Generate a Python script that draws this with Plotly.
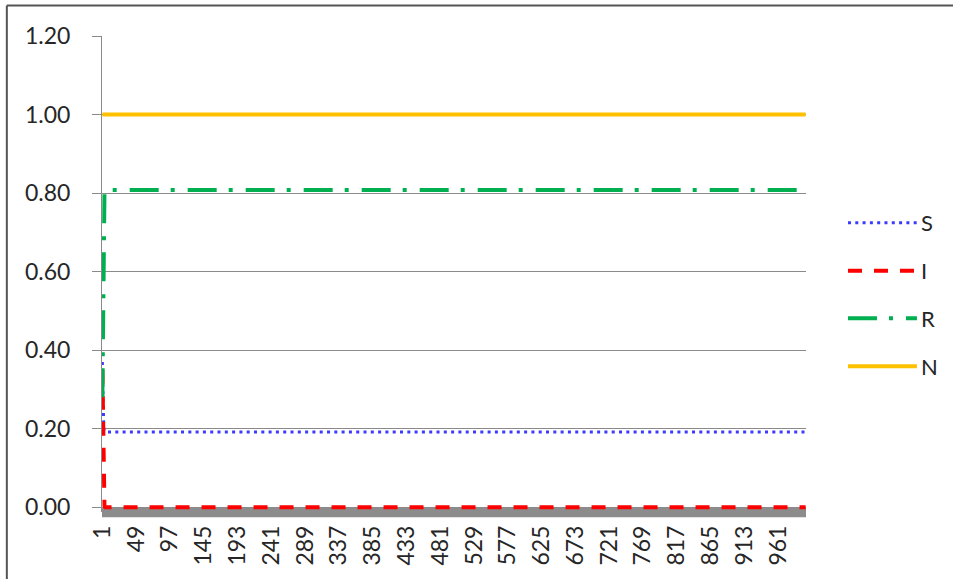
import plotly.graph_objects as go

# ---------------- data ----------------
n_steps = 1000
time = list(range(1, n_steps + 1))
tick_labels = [str(v) for v in range(1, 962, 48)]

# early transient values (first time steps), then the settled level
S_start = [0.37, 0.24, 0.20, 0.194]
I_start = [0.35, 0.16, 0.03, 0.004]
R_start = [0.28, 0.60, 0.77, 0.802]
S_end = 0.192
I_end = 0.0
R_end = 0.808
N_level = 1.0

S = S_start + [S_end] * (n_steps - len(S_start))
I = I_start + [I_end] * (n_steps - len(I_start))
R = R_start + [R_end] * (n_steps - len(R_start))
N = [N_level] * n_steps

names = ["S", "I", "R", "N"]
colors = ["#3B3BFF", "#FF0000", "#00B050", "#FFC000"]
dashes = ["3px,4.3px", "14px,12px", "29px,12px,4px,13px", "solid"]
widths = [3, 4, 4, 4]
series = [S, I, R, N]

# ---------------- layout geometry (pixels) ----------------
W, H = 953, 579
L, Rr = 101.7, 806.0
T, B = 36.0, 511.7
pw, ph = Rr - L, B - T


def px(x):
    return (x - L) / pw


def py(y):
    return (B - y) / ph


FONT = "Lato, 'Open Sans', Arial, sans-serif"
TXT = "#262626"
GRID = "#8a8a8a"

fig = go.Figure()
for name, ys, c, d, w in zip(names, series, colors, dashes, widths):
    fig.add_trace(go.Scatter(x=time, y=ys, mode="lines", name=name,
                             line=dict(color=c, dash=d, width=w),
                             showlegend=False, hoverinfo="skip"))

shapes = []
# grey floor band under the x axis
shapes.append(dict(type="rect", xref="paper", yref="paper",
                   x0=0, x1=1, y0=py(517), y1=py(507),
                   fillcolor="#8c8c8c", line=dict(width=0), layer="below"))
# chart frame (top and left edges visible)
shapes.append(dict(type="line", xref="paper", yref="paper",
                   x0=px(6.5), x1=px(960), y0=py(5.5), y1=py(5.5),
                   line=dict(color="#555555", width=2)))
shapes.append(dict(type="line", xref="paper", yref="paper",
                   x0=px(6.5), x1=px(6.5), y0=py(5.5), y1=py(590),
                   line=dict(color="#555555", width=2)))

# manual legend
leg_y = [222.7, 270.7, 318.0, 366.0]
annotations = []
for name, c, d, w, yy in zip(names, colors, dashes, widths, leg_y):
    shapes.append(dict(type="line", xref="paper", yref="paper",
                       x0=px(848), x1=px(917), y0=py(yy), y1=py(yy),
                       line=dict(color=c, dash=d, width=w)))
    annotations.append(dict(xref="paper", yref="paper", x=px(919), y=py(yy),
                            text=name, showarrow=False, xanchor="left",
                            yanchor="middle",
                            font=dict(family=FONT, size=22, color=TXT)))

fig.update_layout(
    width=W, height=H,
    margin=dict(l=L, r=W - Rr, t=T, b=H - B, pad=0),
    paper_bgcolor="white", plot_bgcolor="white",
    showlegend=False,
    shapes=shapes, annotations=annotations,
    font=dict(family=FONT, size=23, color=TXT),
    xaxis=dict(range=[0.5, n_steps + 0.5],
               tickmode="array", tickvals=[int(t) for t in tick_labels],
               ticktext=tick_labels, tickangle=-90,
               showgrid=False, zeroline=False, showline=False,
               ticks="", ticklabelstandoff=8,
               tickfont=dict(family=FONT, size=23, color=TXT)),
    yaxis=dict(range=[-0.012, 1.2],
               tickmode="array", tickvals=[0, 0.2, 0.4, 0.6, 0.8, 1.0, 1.2],
               tickformat=".2f",
               showgrid=True, gridcolor=GRID, gridwidth=1,
               zeroline=False, showline=True, linecolor=GRID, linewidth=1,
               ticks="outside", ticklen=9, tickcolor=GRID,
               ticklabelstandoff=17,
               tickfont=dict(family=FONT, size=23, color=TXT)),
)

fig.write_html("out.html",
               config={"displayModeBar": False, "staticPlot": True},
               post_script="document.body.style.margin='0';"
                           "document.body.style.overflow='hidden';")
